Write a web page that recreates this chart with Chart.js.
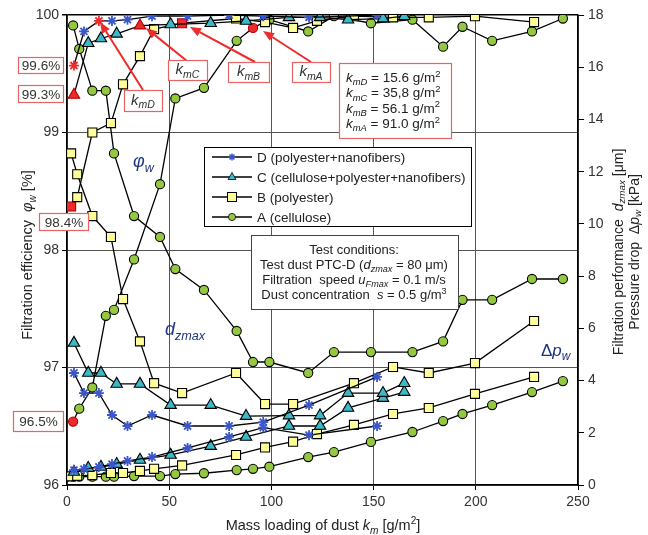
<!DOCTYPE html>
<html><head><meta charset="utf-8">
<script src="https://cdn.jsdelivr.net/npm/chart.js@4/dist/chart.umd.min.js"></script>
<style>html,body{margin:0;padding:0;background:#fff}#wrap{width:648px;height:535px}</style>
</head><body><div id="wrap"><canvas id="c" width="648" height="535"></canvas></div>
<script>
// ---------- DATA ----------
const X_TICKS = [0, 50, 100, 150, 200, 250];
const LEFT_TICKS = [96, 97, 98, 99, 100];
const RIGHT_TICKS = [0, 2, 4, 6, 8, 10, 12, 14, 16, 18];

// A (cellulose)
const A_x   = [3, 6, 12.4, 19, 23, 32.8, 45.5, 53, 67, 83, 91, 99, 118, 130.6, 148.7, 169, 184, 193.5, 208, 227.5, 242.6];
const A_phi = [96.54, 96.65, 96.83, 97.44, 97.49, 97.92, 98.56, 99.29, 99.38, 99.78, 99.89, 99.96, 99.86, 99.99, 99.93, 99.96, 99.73, 99.9, 99.78, 99.86, 99.97];
const A_dz  = [17.6, 16.7, 15.1, 15.1, 12.7, 10.3, 9.5, 8.27, 7.47, 5.9, 4.71, 4.71, 4.29, 5.09, 5.09, 5.09, 5.5, 7.09, 7.09, 7.89, 7.89];
const A_dpX = [0, 3, 6, 12.4, 19, 23, 32.8, 45.5, 53, 67, 83, 91, 99, 118, 130.6, 148.7, 169, 184, 193.5, 208, 227.5, 242.6];
const A_dp  = [0.32, 0.32, 0.32, 0.32, 0.32, 0.32, 0.34, 0.34, 0.42, 0.45, 0.57, 0.62, 0.70, 1.07, 1.26, 1.65, 2.03, 2.45, 2.72, 3.06, 3.56, 3.98];
const A_red = [0, 10];

// B (polyester)
const B_x   = [2, 5, 12.4, 21.5, 27.4, 35.7, 42.6, 56.3, 82.7, 96.9, 110.6, 122.3, 140.4, 159.5, 177, 199.6, 228.5];
const B_phi = [98.37, 98.45, 99.0, 99.08, 99.41, 99.65, 99.88, 99.93, 99.97, 99.94, 99.89, 99.95, 99.99, 99.98, 99.98, 99.99, 99.94];
const B_dzX = [2, 5, 12.4, 21.5, 27.4, 35.7, 42.6, 56.3, 82.7, 96.9, 110.6, 140.4, 159.5, 177, 199.6, 228.5];
const B_dz  = [12.7, 11.9, 10.3, 9.5, 7.12, 5.5, 3.9, 3.52, 4.29, 3.1, 3.1, 3.9, 4.52, 4.29, 4.67, 6.28];
const B_dp  = [0.33, 0.35, 0.38, 0.46, 0.46, 0.54, 0.62, 0.75, 1.15, 1.44, 1.66, 1.95, 2.3, 2.72, 2.95, 3.49, 4.14];
const B_red = [0, 7];

// C (cellulose+polyester+nanofibers)
const C_x   = [3.4, 10.4, 16.6, 24.3, 35.7, 50.7, 70.3, 87.6, 108.6, 123.8, 137.5, 154.6, 165];
const C_phi = [99.32, 99.76, 99.8, 99.84, 99.91, 99.92, 99.93, 99.95, 99.98, 99.98, 99.96, 99.97, 99.99];
const C_dz  = [5.44, 4.29, 4.29, 3.87, 3.87, 3.06, 3.06, 2.64, 2.66, 2.66, 3.52, 3.52, 3.9];
const C_dp  = [0.5, 0.65, 0.69, 0.8, 0.96, 1.15, 1.49, 1.84, 2.26, 2.26, 2.95, 3.33, 3.56];
const C_red = [0, 4];

// D (polyester+nanofibers)
const D_x   = [3.4, 8.3, 15.6, 22, 29.6, 41.6, 59, 79.3, 96, 118.4, 151.7];
const D_phi = [99.57, 99.86, 99.95, 99.95, 99.96, 99.99, 99.99, 100, 99.99, 99.98, 100];
const D_dz  = [4.29, 3.52, 3.52, 2.68, 2.26, 2.68, 2.26, 2.26, 2.41, 3.06, 4.14];
const D_dp  = [0.57, 0.61, 0.69, 0.8, 0.92, 1.07, 1.42, 1.84, 2.2, 1.91, 2.26];
const D_red = [0, 2];

// ---------- STYLE ----------
const FONT = '"Liberation Sans", Arial, sans-serif';
const RED = '#ee2a2a', RED_B = '#b00000';
const COL = {A: '#94c840', B: '#ffff99', C: '#3cb9c9', D: '#3b56c8'};
const NAVY = '#1f3580';

const pts = (xs, ys) => xs.map((x, i) => ({x: x, y: ys[i]}));

function series(key, data, axis, redIdx) {
  const style = {A: 'circle', B: 'rect', C: 'triangle', D: 'star'}[key];
  const radius = {A: 4.6, B: 6.4, C: 6.6, D: 5}[key];
  const isD = key === 'D';
  const red = redIdx || [];
  return {
    data: data, yAxisID: axis,
    borderColor: '#000', borderWidth: 1.3, fill: false, tension: 0,
    pointStyle: style, pointRadius: radius, pointHoverRadius: radius,
    pointBorderWidth: isD ? 1.8 : 1.1,
    pointBackgroundColor: c => red.includes(c.dataIndex) ? RED : COL[key],
    pointBorderColor: c => red.includes(c.dataIndex) ? (isD ? RED : RED_B) : (isD ? COL.D : '#000')
  };
}

const datasets = [
  series('D', pts(D_x, D_phi), 'y', D_red),
  series('D', pts(D_x, D_dz), 'y1'),
  series('D', pts(D_x, D_dp), 'y1'),
  series('C', pts(C_x, C_phi), 'y', C_red),
  series('C', pts(C_x, C_dz), 'y1'),
  series('C', pts(C_x, C_dp), 'y1'),
  series('B', pts(B_x, B_phi), 'y', B_red),
  series('B', pts(B_dzX, B_dz), 'y1'),
  series('B', pts(B_x, B_dp), 'y1'),
  series('A', pts(A_x, A_phi), 'y', A_red),
  series('A', pts(A_x, A_dz), 'y1'),
  series('A', pts(A_dpX, A_dp), 'y1')
];

// ---------- rich text helpers ----------
const N = t => ({t: t}), I = t => ({t: t, i: true}), IS = t => ({t: t, i: true, sub: true}), SUP = t => ({t: t, sup: true});
function fontFor(p, size) {
  const s = (p.sub || p.sup) ? size * 0.7 : size;
  return (p.i ? 'italic ' : '') + s.toFixed(1) + 'px ' + FONT;
}
function richWidth(ctx, parts, size) {
  let w = 0;
  for (const p of parts) { ctx.font = fontFor(p, size); w += ctx.measureText(p.t).width; }
  return w;
}
function drawRich(ctx, parts, x, y, size, align, color, subOff) {
  const w = richWidth(ctx, parts, size);
  let cx = align === 'center' ? x - w / 2 : (align === 'right' ? x - w : x);
  ctx.fillStyle = color || '#222';
  ctx.textAlign = 'left'; ctx.textBaseline = 'alphabetic';
  const so = subOff === undefined ? 0.25 : subOff;
  for (const p of parts) {
    ctx.font = fontFor(p, size);
    const dy = p.sub ? size * so : (p.sup ? -size * 0.38 : 0);
    ctx.fillText(p.t, cx, y + dy);
    cx += ctx.measureText(p.t).width;
  }
}
function box(ctx, x, y, w, h, stroke, lw) {
  ctx.fillStyle = '#fff'; ctx.fillRect(x, y, w, h);
  ctx.strokeStyle = stroke; ctx.lineWidth = lw || 1.2; ctx.strokeRect(x + 0.5, y + 0.5, w, h);
}
function arrow(ctx, x1, y1, x2, y2, col) {
  const a = Math.atan2(y2 - y1, x2 - x1), L = 11, W = 4.5;
  const bx = x2 - L * Math.cos(a), by = y2 - L * Math.sin(a);
  ctx.strokeStyle = col; ctx.lineWidth = 2;
  ctx.beginPath(); ctx.moveTo(x1, y1); ctx.lineTo(bx, by); ctx.stroke();
  ctx.fillStyle = col; ctx.beginPath();
  ctx.moveTo(x2, y2);
  ctx.lineTo(bx + W * Math.sin(a), by - W * Math.cos(a));
  ctx.lineTo(bx - W * Math.sin(a), by + W * Math.cos(a));
  ctx.closePath(); ctx.fill();
}
function marker(ctx, key, x, y) {
  ctx.lineWidth = 1;
  if (key === 'D') {
    ctx.strokeStyle = COL.D; ctx.lineWidth = 1.5; const r = 3.5;
    ctx.beginPath();
    for (let k = 0; k < 4; k++) { const a = k * Math.PI / 4; ctx.moveTo(x - r * Math.cos(a), y - r * Math.sin(a)); ctx.lineTo(x + r * Math.cos(a), y + r * Math.sin(a)); }
    ctx.stroke();
  } else if (key === 'C') {
    ctx.fillStyle = COL.C; ctx.strokeStyle = '#000'; ctx.lineWidth = 0.8;
    ctx.beginPath(); ctx.moveTo(x, y - 4.5); ctx.lineTo(x + 4, y + 2.5); ctx.lineTo(x - 4, y + 2.5); ctx.closePath(); ctx.fill(); ctx.stroke();
  } else if (key === 'B') {
    ctx.fillStyle = COL.B; ctx.strokeStyle = '#000'; ctx.lineWidth = 1;
    ctx.fillRect(x - 4.5, y - 4.5, 9, 9); ctx.strokeRect(x - 4.5, y - 4.5, 9, 9);
  } else {
    ctx.fillStyle = COL.A; ctx.strokeStyle = '#000'; ctx.lineWidth = 0.8;
    ctx.beginPath(); ctx.arc(x, y, 3.6, 0, Math.PI * 2); ctx.fill(); ctx.stroke();
  }
}

const overlay = {
  id: 'overlay',
  afterDraw(chart) {
    const ctx = chart.ctx;
    ctx.save();
    const BR = '#e86464';
    // arrows
    arrow(ctx, 143, 90, 100, 22, RED);
    arrow(ctx, 187, 61, 146, 28, RED);
    arrow(ctx, 255, 62, 190, 27, RED);
    arrow(ctx, 311, 62, 263, 31, RED);
    // percent boxes
    const pb = [[18, 57, 45, 16, '99.6%'], [18, 85, 45, 17, '99.3%'], [39, 213, 49, 17, '98.4%'], [13, 411, 50, 20, '96.5%']];
    for (const b of pb) {
      box(ctx, b[0], b[1], b[2], b[3], BR);
      drawRich(ctx, [N(b[4])], b[0] + b[2] / 2 + 0.5, b[1] + b[3] / 2 + 5, 13.5, 'center', '#333');
    }
    // km boxes
    const kb = [[124, 90, 38, 21, 'mD'], [168, 60, 39, 20, 'mC'], [228, 62, 41, 20, 'mB'], [292, 62, 38, 20, 'mA']];
    for (const b of kb) {
      box(ctx, b[0], b[1], b[2], b[3], BR);
      drawRich(ctx, [I('k'), IS(b[4])], b[0] + b[2] / 2, b[1] + b[3] / 2 + 4, 15, 'center', '#333');
    }
    // values box
    box(ctx, 339, 63, 112, 75, BR);
    const vals = [['mD', '15.6'], ['mC', '35,8'], ['mB', '56.1'], ['mA', '91.0']];
    vals.forEach((v, i) => drawRich(ctx, [I('k'), IS(v[0]), N(' = ' + v[1] + ' g/m'), SUP('2')], 346, 82 + i * 15.3, 13.5, 'left', '#222'));
    // legend
    box(ctx, 204, 147, 267, 79, '#000', 1);
    const leg = [['D', 'D (polyester+nanofibers)'], ['C', 'C (cellulose+polyester+nanofibers)'], ['B', 'B (polyester)'], ['A', 'A (cellulose)']];
    leg.forEach((l, i) => {
      const y = 157 + i * 20;
      ctx.strokeStyle = '#000'; ctx.lineWidth = 1.3;
      ctx.beginPath(); ctx.moveTo(212, y); ctx.lineTo(252, y); ctx.stroke();
      marker(ctx, l[0], 232, y);
      drawRich(ctx, [N(l[1])], 257, y + 5, 13.5, 'left', '#222');
    });
    // test conditions
    box(ctx, 251, 235, 207, 74, '#444', 1);
    const cx = 354;
    drawRich(ctx, [N('Test conditions:')], cx, 254, 13, 'center', '#222');
    drawRich(ctx, [N('Test dust PTC-D ('), I('d'), IS('zmax'), N(' = 80 μm)')], cx, 269, 13, 'center', '#222');
    drawRich(ctx, [N('Filtration  speed '), I('u'), IS('Fmax'), N(' = 0.1 m/s')], cx, 284, 13, 'center', '#222');
    drawRich(ctx, [N('Dust concentration  '), I('s'), N(' = 0.5 g/m'), SUP('3')], cx, 299, 13, 'center', '#222');
    // curve labels
    drawRich(ctx, [I('φ'), IS('w')], 133, 167, 18, 'left', NAVY);
    drawRich(ctx, [I('d'), IS('zmax')], 165, 335, 18, 'left', NAVY);
    drawRich(ctx, [N('Δ'), I('p'), IS('w')], 541, 356, 17, 'left', NAVY);
    // axis titles
    drawRich(ctx, [N('Mass loading of dust '), I('k'), IS('m'), N(' [g/m'), SUP('2'), N(']')], 323, 530, 14.5, 'center', '#222');
    ctx.save(); ctx.translate(27, 255); ctx.rotate(-Math.PI / 2);
    drawRich(ctx, [N('Filtration efficiency  '), I('φ'), IS('w'), N(' [%]')], 0, 5, 14.5, 'center', '#222');
    ctx.restore();
    ctx.save(); ctx.translate(618, 252); ctx.rotate(-Math.PI / 2);
    drawRich(ctx, [N('Filtration performance  '), I('d'), IS('zmax'), N(' [μm]')], 0, 5, 14, 'center', '#222', 0.15);
    ctx.restore();
    ctx.save(); ctx.translate(634, 252); ctx.rotate(-Math.PI / 2);
    drawRich(ctx, [N('Pressure drop  Δ'), I('p'), IS('w'), N(' [kPa]')], 0, 5, 14, 'center', '#222', 0.15);
    ctx.restore();
    ctx.restore();
  }
};

const tickFont = {family: FONT, size: 14};
new Chart(document.getElementById('c'), {
  type: 'line',
  data: {datasets: datasets},
  options: {
    responsive: false, animation: false,
    layout: {padding: {top: 15, left: 0, right: 0, bottom: 0}},
    plugins: {legend: {display: false}, tooltip: {enabled: false}},
    scales: {
      x: {
        type: 'linear', min: 0, max: 250,
        afterBuildTicks: s => { s.ticks = X_TICKS.map(v => ({value: v})); },
        afterFit: s => { s.height = 50; },
        ticks: {font: tickFont, color: '#333', padding: 4, maxRotation: 0},
        grid: {color: '#555', lineWidth: 1, tickLength: 5, tickColor: '#000'},
        border: {color: '#000', width: 1.5}
      },
      y: {
        position: 'left', min: 96, max: 100,
        afterBuildTicks: s => { s.ticks = LEFT_TICKS.map(v => ({value: v})); },
        afterFit: s => { s.width = 67; },
        ticks: {font: tickFont, color: '#333', padding: 3},
        grid: {color: c => (c.tick && c.tick.value === 100) ? '#000' : '#555', lineWidth: c => (c.tick && c.tick.value === 100) ? 1.5 : 1, tickLength: 5, tickColor: '#000'},
        border: {color: '#000', width: 1.5}
      },
      y1: {
        position: 'right', min: 0, max: 18,
        afterBuildTicks: s => { s.ticks = RIGHT_TICKS.map(v => ({value: v})); },
        afterFit: s => { s.width = 70; },
        ticks: {font: tickFont, color: '#333', padding: 4},
        grid: {drawOnChartArea: false, tickLength: 6, tickColor: '#000'},
        border: {color: '#000', width: 1.5}
      }
    }
  },
  plugins: [overlay]
});
</script></body></html>
